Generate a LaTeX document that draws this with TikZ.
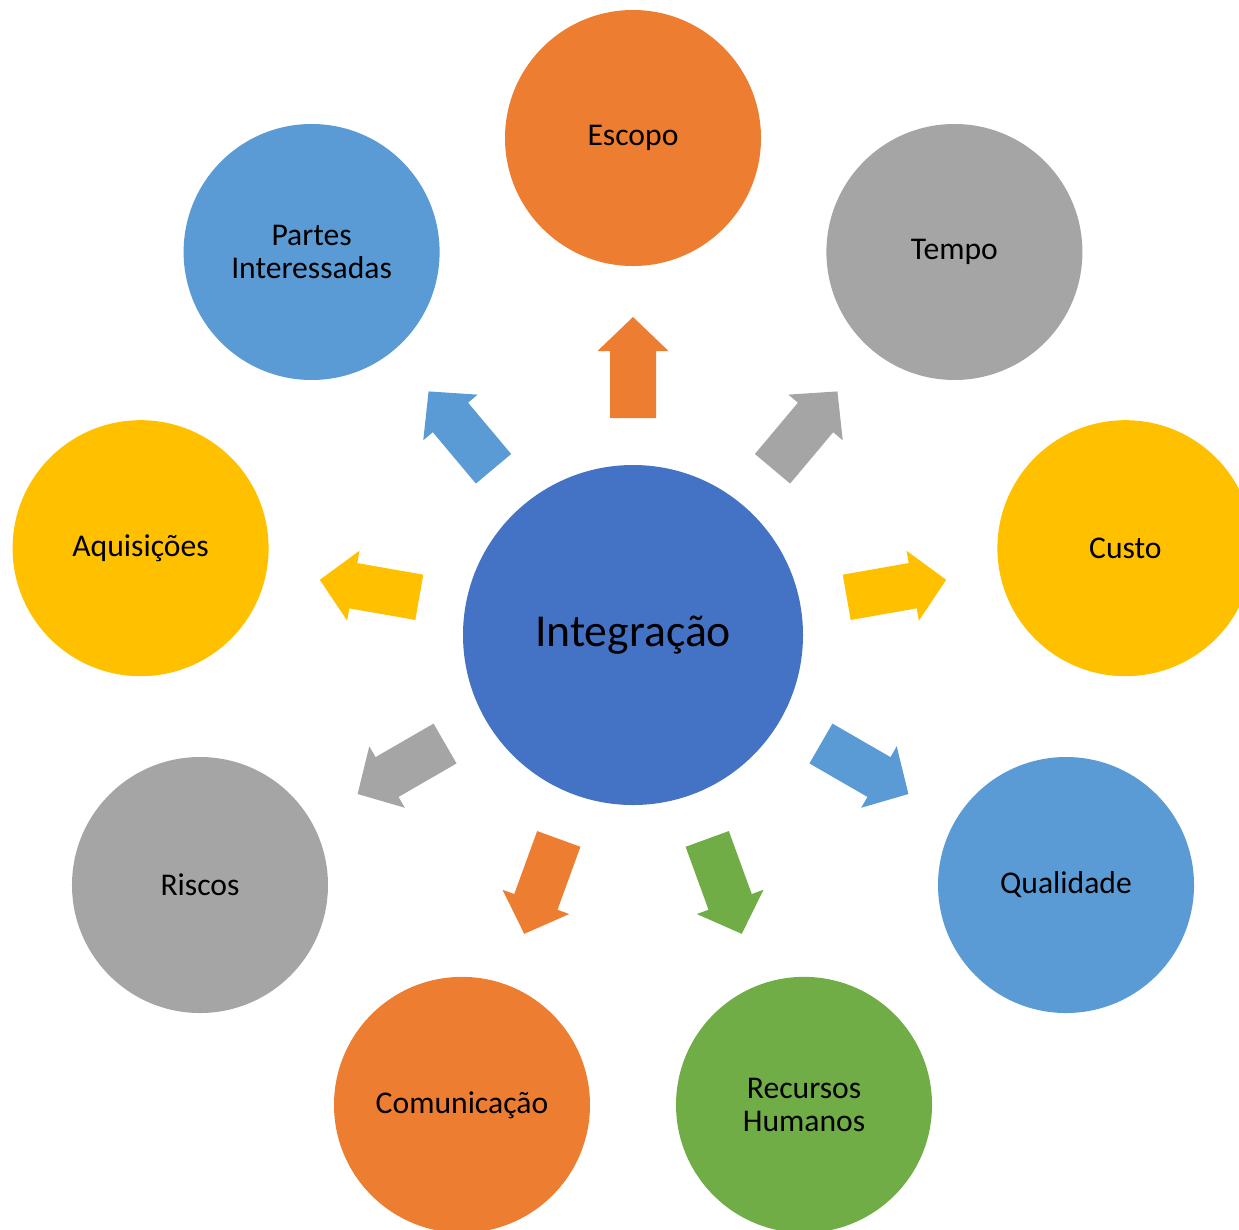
\documentclass[tikz,border=0pt]{standalone}
\usepackage{fontspec}
\setmainfont{Carlito}
\usetikzlibrary{calc}
\definecolor{laranja}{HTML}{ED7D31}
\definecolor{cinza}{HTML}{A5A5A5}
\definecolor{amarelo}{HTML}{FFC000}
\definecolor{azulclaro}{HTML}{5B9BD5}
\definecolor{verde}{HTML}{70AD47}
\definecolor{azul}{HTML}{4472C4}
\tikzset{
	area/.style={circle, minimum size=2.56cm, inner sep=0pt, align=center, text=black, font=\fontsize{9}{9.4}\selectfont},
	centro/.style={circle, fill=azul, minimum size=3.4cm, inner sep=0pt, text=black, font=\fontsize{13}{15}\selectfont}
}
\def\seta#1#2{\fill[#2, shift={(int.center)}, rotate=#1] (2.17,-0.23) -- (2.84,-0.23) -- (2.84,-0.355) -- (3.18,0) -- (2.84,0.355) -- (2.84,0.23) -- (2.17,0.23) -- cycle;}

\begin{document}
\begin{tikzpicture}
		%%%%% START %%%%%
		\useasboundingbox (0,0) rectangle (12.39,-12.29);
		
		\node[centro] (int) at (6.33,-6.35) {Integração};
		
		\node[area, fill=laranja] (esc) at ($(int)+(90:4.97)$) {Escopo};
		\node[area, fill=cinza] (tem) at ($(int)+(50:5)$) {Tempo};
		\node[area, fill=amarelo] (cus) at ($(int)+(10:5)$) {Custo};
		\node[area, fill=azulclaro] (qua) at ($(int)+(-30:5)$) {Qualidade};
		\node[area, fill=verde] (rec) at ($(int)+(-70:5)$) {Recursos\\Humanos};
		\node[area, fill=laranja] (com) at ($(int)+(-110:5)$) {Comunicação};
		\node[area, fill=cinza] (ris) at ($(int)+(-150:5)$) {Riscos};
		\node[area, fill=amarelo] (aqu) at ($(int)+(170:5)$) {Aquisições};
		\node[area, fill=azulclaro] (par) at ($(int)+(130:5)$) {Partes\\Interessadas};
		
		% setas
		\seta{90}{laranja}
		\seta{50}{cinza}
		\seta{10}{amarelo}
		\seta{-30}{azulclaro}
		\seta{-70}{verde}
		\seta{-110}{laranja}
		\seta{-150}{cinza}
		\seta{170}{amarelo}
		\seta{130}{azulclaro}
		
		%%%%% END %%%%%
\end{tikzpicture}
\end{document}
